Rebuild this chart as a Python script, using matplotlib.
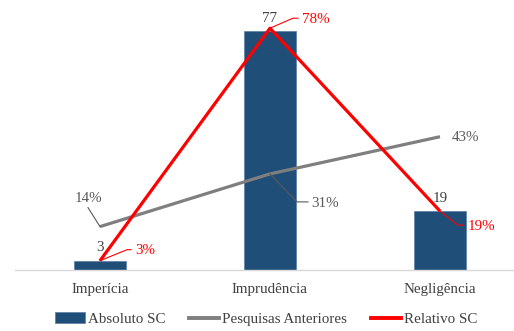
import matplotlib.pyplot as plt
from matplotlib.patches import Patch
from matplotlib.lines import Line2D

categorias = ['Imperícia', 'Imprudência', 'Negligência']
absoluto_sc = [3, 77, 19]
relativo_sc = [3, 78, 19]
pesquisas_anteriores = [14, 31, 43]

plt.rcParams['font.family'] = ['Liberation Serif', 'DejaVu Serif']
fs = 10.8

fig = plt.figure(figsize=(5.14, 3.31), dpi=100)
W, H = 514, 331
ax = fig.add_axes([15 / W, 1 - 270 / H, (W - 15) / W, 270 / H])
ax.set_xlim(-0.5, -0.5 + (W - 15) / 170)
ax.set_ylim(0, 270 / 3.1)

x = list(range(len(categorias)))
bar_color = '#1F4E79'
red = '#FF0000'
grey = '#7F7F7F'

ax.bar(x, absoluto_sc, width=0.31, color=bar_color, edgecolor='#5A7EA3', linewidth=0.5, zorder=2)
ax.plot(x, pesquisas_anteriores, color=grey, lw=2.3, solid_capstyle='butt', zorder=3)
ax.plot(x, relativo_sc, color=red, lw=2.3, solid_capstyle='butt', zorder=4)

for s in ['top', 'left', 'right']:
    ax.spines[s].set_visible(False)
ax.spines['bottom'].set_color('#D9D9D9')
ax.spines['bottom'].set_linewidth(1)
ax.set_yticks([])
ax.set_xticks(x)
ax.set_xticklabels(categorias, fontsize=fs, color='#404040')
ax.tick_params(axis='x', length=0, pad=9.5)


def px(xv, yv, dx, dy):
    # data point shifted by screen pixels (dy positive = up)
    X, Y = ax.transData.transform((xv, yv))
    return ax.transData.inverted().transform((X + dx, Y + dy))


def leader(xv, yv, verts, text_off, label, color, ha='left'):
    pts = [(xv, yv)] + [tuple(px(xv, yv, dx, dy)) for dx, dy in verts]
    ax.plot([p[0] for p in pts], [p[1] for p in pts], color=color, lw=0.8, zorder=5)
    tx, ty = px(xv, yv, *text_off)
    ax.text(tx, ty, label, color=color, fontsize=fs, ha=ha, va='center', zorder=6)


# bar values
for xi, v in zip(x, absoluto_sc):
    tx, ty = px(xi, v, 0, 13)
    ax.text(tx, ty, str(v), ha='center', va='center', fontsize=fs, color='#404040')

# Relativo SC labels
leader(0, relativo_sc[0], [(27, 11), (31, 11)], (35, 10), f'{relativo_sc[0]}%', red)
leader(1, relativo_sc[1], [(23, 10), (28, 10)], (32, 9), f'{relativo_sc[1]}%', red)
leader(2, relativo_sc[2], [(18, -14), (23, -14)], (28, -15), f'{relativo_sc[2]}%', red)

# Pesquisas Anteriores labels
leader(0, pesquisas_anteriores[0], [(-12, 19)], (-12, 28.5), f'{pesquisas_anteriores[0]}%', '#595959', ha='center')
leader(1, pesquisas_anteriores[1], [(27, -28), (38, -28)], (41, -29.5), f'{pesquisas_anteriores[1]}%', '#595959')
tx, ty = px(2, pesquisas_anteriores[2], 12, -1)
ax.text(tx, ty, f'{pesquisas_anteriores[2]}%', color='#595959', fontsize=fs, ha='left', va='center')

handles = [
    Patch(facecolor=bar_color, edgecolor='#5A7EA3', linewidth=0.5),
    Line2D([], [], color=grey, lw=2.8),
    Line2D([], [], color=red, lw=2.8),
]
labels = ['Absoluto SC', 'Pesquisas Anteriores', 'Relativo SC']
fig.legend(handles, labels, loc='center', bbox_to_anchor=(266 / W, 12 / H), ncol=3,
           frameon=False, fontsize=fs, handlelength=2.0, handletextpad=0.2,
           columnspacing=1.6, labelcolor='#404040')

fig.savefig('out.png', dpi=100)
